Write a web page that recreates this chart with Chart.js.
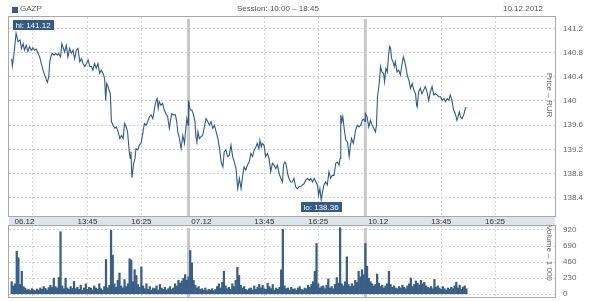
<!DOCTYPE html>
<html><head><meta charset="utf-8">
<script src="https://cdn.jsdelivr.net/npm/chart.js@4"></script>
<style>
html,body{margin:0;padding:0;background:#fff;}
#wrap{position:relative;width:600px;height:301px;overflow:hidden;font-family:"Liberation Sans",Arial,sans-serif;color:#555;}
#c1{position:absolute;left:0;top:0;}
#c2{position:absolute;left:0;top:216px;}
.hd{position:absolute;top:4px;font-size:8px;line-height:10px;white-space:nowrap;}
#sq{position:absolute;left:12px;top:7px;width:6px;height:6px;background:#365a84;}
</style></head><body>
<div id="wrap">
<canvas id="c1" width="600" height="226"></canvas>
<canvas id="c2" width="600" height="85"></canvas>
<div id="sq"></div>
<div class="hd" id="ticker" style="left:20px;"></div>
<div class="hd" id="session" style="left:237px;"></div>
<div class="hd" id="date" style="right:57px;"></div>
</div>
<script>
// ---- header text ----
const tickerName = 'GAZP';
const sessionText = 'Session: 10:00 – 18:45';
const dateText = '10.12.2012';
const priceTitle = 'Price – RUR';
const volumeTitle = 'Volume – 1 000';

// ---- axis ticks ----
const sessionLen = 525; // minutes from 10:00 to 18:45
const dayLabels = ['06.12', '07.12', '10.12'];
const timeTickMin = [225, 385];          // minutes after 10:00
const timeTickLabels = ['13:45', '16:25'];
const extraGridMin = [63];               // unlabelled grid line (first day only)
const priceTicks = [138.4, 138.8, 139.2, 139.6, 140, 140.4, 140.8, 141.2];
const volumeTicks = [0, 230, 460, 690, 920];

// ---- price series (minutes after 10:00, price) ----
const day1Min = [0,2,7,13,19,25,29,34,38,43,48,53,58,63,68,73,78,83,88,93,98,103,106,110,113,116,120,126,130,136,139,145,149,152,157,162,167,172,177,182,187,192,197,202,207,212,217,222,227,232,237,241,246,251,256,261,266,271,276,279,282,286,289,293,296,301,306,311,316,321,326,331,335,340,344,349,352,354,357,359,362,366,369,374,379,384,389,394,399,404,409,414,419,424,429,432,435,438,443,448,453,458,463,468,471,475,480,486,490,493,498,503,508,513,516,520,524];
const day1Price = [140.70,140.58,140.79,141.12,140.98,141.01,140.87,140.95,140.84,140.92,140.82,140.90,140.84,140.88,140.84,140.86,140.79,140.73,140.62,140.51,140.43,140.35,140.31,140.40,140.65,140.73,140.79,140.76,140.79,140.76,140.79,140.73,140.95,140.90,140.81,140.92,140.73,140.87,140.79,140.84,140.70,140.84,140.87,140.65,140.70,140.62,140.57,140.62,140.68,140.57,140.57,140.51,140.62,140.54,140.62,140.46,140.51,140.46,140.37,140.01,140.29,140.24,140.18,140.12,139.66,139.60,139.55,139.57,139.49,139.38,139.43,139.38,139.63,139.57,139.49,139.16,139.05,139.16,138.73,138.83,138.97,139.05,139.21,139.19,139.27,139.30,139.46,139.63,139.60,139.66,139.74,139.77,139.71,139.88,140.01,140.04,139.88,139.99,139.93,139.96,139.85,139.79,139.74,139.55,139.66,139.79,139.77,139.77,139.66,139.49,139.38,139.21,139.43,139.30,139.49,139.71,139.60];
const day2Min = [0,5,10,15,19,22,25,28,32,37,42,47,52,57,62,67,72,77,82,87,92,97,102,106,111,116,121,126,131,136,141,146,151,156,161,165,170,175,180,185,190,195,200,204,209,212,216,219,224,229,234,239,244,249,254,259,264,269,274,279,282,286,289,294,298,303,308,313,318,323,328,333,338,343,348,353,358,363,368,373,378,383,386,390,394,398,402,407,412,417,422,427,432,437,442,447,450,452,455,458,462,467,472,477,480,484,489,492,496,501,506,511,516,520,524];
const day2Price = [140.01,139.85,139.85,139.77,139.66,139.41,139.32,139.49,139.38,139.41,139.43,139.57,139.71,139.66,139.60,139.66,139.55,139.60,139.49,139.38,139.21,138.99,138.91,139.16,139.19,139.08,139.10,139.27,139.08,138.99,138.88,138.55,138.72,138.55,138.77,138.91,138.86,138.94,138.99,139.13,139.08,139.19,139.24,139.30,139.21,139.35,139.24,139.30,139.27,139.08,139.13,139.05,138.83,138.97,138.94,138.88,138.94,138.80,138.72,138.66,138.94,138.99,138.97,138.80,138.72,138.66,138.66,138.72,138.58,138.55,138.58,138.58,138.61,138.63,138.69,138.72,138.69,138.72,138.66,138.72,138.66,138.61,138.44,138.55,138.36,138.50,138.61,138.66,138.61,138.83,138.72,138.77,138.77,138.97,138.99,138.94,139.05,139.77,139.66,139.74,139.55,139.35,139.32,139.08,139.24,139.38,139.30,139.38,139.52,139.60,139.57,139.60,139.68,139.70,139.66];
const day3Min = [0,5,10,15,20,25,30,33,36,40,42,45,49,54,57,61,65,69,72,75,78,82,86,89,94,99,104,109,113,117,121,124,129,134,139,144,149,152,154,158,163,168,173,178,183,188,193,198,203,208,213,218,223,228,233,238,243,248,252,257,262,267,272,275,279,282,287,292,297,300];
const day3Price = [139.79,139.74,139.57,139.68,139.60,139.55,139.49,139.60,140.07,140.24,140.35,140.57,140.48,140.46,140.32,140.54,140.48,140.76,140.90,140.87,140.70,140.65,140.57,140.65,140.48,140.51,140.43,140.62,140.73,140.65,140.54,140.43,140.35,140.21,140.29,140.18,140.12,139.93,139.90,140.15,140.21,140.12,140.18,140.24,140.15,140.01,140.15,140.24,140.10,140.12,140.10,140.07,140.07,140.01,140.04,139.99,140.04,140.01,140.10,140.01,139.85,139.79,139.68,139.74,139.82,139.74,139.71,139.77,139.88,139.90];

// ---- volume (thousands) per 5-minute bar from 10:00 ----
const volStep = 5;
const day1Vol = [180,120,150,616,521,140,328,110,90,60,70,55,80,65,50,75,60,90,70,110,85,60,95,130,100,230,110,90,240,895,120,80,230,90,70,110,85,184,80,100,70,130,60,90,150,70,100,85,60,120,90,70,150,80,60,110,497,90,130,914,560,150,100,200,305,120,90,210,110,150,507,490,180,353,268,140,100,391,120,80,150,70,110,60,90,80,120,60,140,90,70,100,60,80,110,70,90,150,120,200,160,190,230,281,200];
const day2Vol = [250,626,449,200,130,90,110,70,80,60,90,50,70,60,80,50,70,110,150,90,170,328,120,80,100,70,150,110,200,386,270,130,90,110,70,60,80,90,60,120,70,100,140,90,130,80,70,160,110,80,140,60,90,70,100,350,929,120,80,90,60,100,70,80,60,90,110,70,60,90,80,130,100,140,180,328,727,150,90,110,120,80,130,220,90,110,80,140,240,160,953,150,120,180,536,140,110,150,120,200,170,328,250,350,280];
const day3Vol = [727,400,230,180,150,120,140,290,160,110,130,90,120,150,328,140,100,120,90,80,110,90,130,100,80,120,150,232,110,140,190,160,130,200,150,170,120,100,90,110,80,212,100,120,90,70,110,80,60,90,70,100,80,120,173,90,130,70,100,120,80];

// ---- build library data ----
const pricePts = [];
[[day1Min, day1Price], [day2Min, day2Price], [day3Min, day3Price]].forEach(([m, p], d) =>
  m.forEach((t, i) => pricePts.push({x: d * sessionLen + t, y: p[i]})));
const volPts = [];
[day1Vol, day2Vol, day3Vol].forEach((arr, d) =>
  arr.forEach((v, i) => volPts.push({x: d * sessionLen + i * volStep, y: v})));

const DATE_OFF = 38;
const xLabelMap = new Map();
const xTickVals = [];
dayLabels.forEach((lab, d) => {
  const v = d * sessionLen + DATE_OFF; xTickVals.push(v); xLabelMap.set(v, {label: lab, grid: false});
  timeTickMin.forEach((t, j) => { const tv = d * sessionLen + t; xTickVals.push(tv); xLabelMap.set(tv, {label: timeTickLabels[j], grid: true}); });
});
extraGridMin.forEach(t => { xTickVals.push(t); xLabelMap.set(t, {label: '', grid: true}); });
xTickVals.sort((a, b) => a - b);

document.getElementById('ticker').textContent = tickerName;
document.getElementById('session').textContent = sessionText;
document.getElementById('date').textContent = dateText;

Chart.defaults.font.family = '"Liberation Sans", Arial, sans-serif';
Chart.defaults.font.size = 8;
Chart.defaults.color = '#555';

const X_MIN = -8, X_MAX = 1613;
const GRID = '#d6d6d6';
const LINE = '#2f5a88';
const FRAME = '#a8a8a8';

function gridColor(ctx) {
  if (!ctx.tick) return GRID;
  const m = xLabelMap.get(ctx.tick.value);
  return m && !m.grid ? 'rgba(0,0,0,0)' : GRID;
}

function drawSeparators(c) {
  const {ctx, chartArea: a, scales} = c;
  ctx.save();
  ctx.fillStyle = '#c8c8c8';
  for (let d = 1; d < dayLabels.length; d++) {
    const px = scales.x.getPixelForValue(d * sessionLen);
    ctx.fillRect(px - 1.5, a.top + 2, 3, a.bottom - a.top - 2);
  }
  ctx.restore();
}
function drawFrame(c) {
  const {ctx, chartArea: a} = c;
  ctx.save();
  ctx.strokeStyle = FRAME; ctx.lineWidth = 1;
  ctx.strokeRect(Math.round(a.left) - 0.5, Math.round(a.top) - 0.5, Math.round(a.right - a.left) + 1, Math.round(a.bottom - a.top) + 1);
  ctx.restore();
}
function drawVTitle(c, text, cy) {
  const {ctx, chartArea: a} = c;
  ctx.save();
  ctx.fillStyle = '#666';
  ctx.font = '8px "Liberation Sans", Arial, sans-serif';
  ctx.translate(a.right - 6, cy);
  ctx.rotate(Math.PI / 2);
  ctx.textAlign = 'center'; ctx.textBaseline = 'middle';
  ctx.fillText(text, 0, 0);
  ctx.restore();
}
function drawTag(c, text, px, py, above) {
  const {ctx, chartArea: a} = c;
  ctx.save();
  ctx.font = '8px "Liberation Sans", Arial, sans-serif';
  const w = Math.ceil(ctx.measureText(text).width) + 5, h = 10;
  let left = Math.round(px - w / 2);
  left = Math.max(a.left + 4, Math.min(left, a.right - w - 4));
  const top = above ? Math.round(py - 13) : Math.round(py + 2);
  ctx.fillStyle = '#365a84';
  ctx.fillRect(left, top, w, h);
  ctx.fillStyle = '#fff';
  ctx.textAlign = 'left'; ctx.textBaseline = 'middle';
  ctx.fillText(text, left + 2.5, top + h / 2 + 0.5);
  ctx.restore();
}

const deco1 = {
  id: 'deco1',
  beforeDraw(c) {
    const {ctx, chartArea: a} = c;
    ctx.save();
    ctx.fillStyle = '#dce3eb';
    ctx.fillRect(a.left, a.bottom, a.right - a.left, c.height - a.bottom);
    ctx.restore();
  },
  beforeDatasetsDraw(c) { drawSeparators(c); },
  afterDraw(c) {
    drawFrame(c);
    drawVTitle(c, priceTitle, 95);
    let hi = pricePts[0], lo = pricePts[0];
    pricePts.forEach(p => { if (p.y > hi.y) hi = p; if (p.y < lo.y) lo = p; });
    const sx = c.scales.x, sy = c.scales.y;
    drawTag(c, 'hi: ' + hi.y.toFixed(2), sx.getPixelForValue(hi.x), sy.getPixelForValue(hi.y), true);
    drawTag(c, 'lo: ' + lo.y.toFixed(2), sx.getPixelForValue(lo.x), sy.getPixelForValue(lo.y), false);
  }
};
const deco2 = {
  id: 'deco2',
  beforeDatasetsDraw(c) { drawSeparators(c); },
  afterDraw(c) { drawFrame(c); drawVTitle(c, volumeTitle, 37); }
};

const xScaleBase = (showLabels) => ({
  type: 'linear', min: X_MIN, max: X_MAX, offset: false,
  afterBuildTicks: s => { s.ticks = xTickVals.map(v => ({value: v})); },
  afterFit: s => { s.height = showLabels ? 10 : 0; },
  ticks: {display: showLabels, autoSkip: false, maxRotation: 0, minRotation: 0, padding: 1, color: '#333',
    callback: v => (xLabelMap.get(v) || {label: ''}).label},
  grid: {color: gridColor, drawTicks: false, lineWidth: 1, offset: false},
  border: {display: false, dash: [2, 2]}
});
const yScaleBase = (min, max, ticksArr, cb) => ({
  position: 'right', min: min, max: max,
  afterBuildTicks: s => { s.ticks = ticksArr.map(v => ({value: v})); },
  afterFit: s => { s.width = 45; },
  ticks: {padding: 0, color: '#666', font: {size: 8, lineHeight: 1}, callback: cb},
  grid: {color: GRID, drawTicks: true, tickLength: 8, tickColor: 'rgba(0,0,0,0)'},
  border: {display: false, dash: [2, 2]}
});

new Chart(document.getElementById('c1'), {
  type: 'line',
  data: {datasets: [{data: pricePts, borderColor: LINE, borderWidth: 1.1, pointRadius: 0, tension: 0, fill: false}]},
  options: {
    responsive: false, animation: false, devicePixelRatio: 1,
    layout: {padding: {left: 9, top: 17, right: 0, bottom: 0}},
    plugins: {legend: {display: false}, tooltip: {enabled: false}},
    scales: {
      x: xScaleBase(true),
      y: yScaleBase(138.097, 141.39, priceTicks, v => String(+(+v).toFixed(1)))
    }
  },
  plugins: [deco1]
});

new Chart(document.getElementById('c2'), {
  type: 'bar',
  data: {datasets: [{data: volPts, backgroundColor: '#3a5e86', barThickness: 1.6, borderWidth: 0}]},
  options: {
    responsive: false, animation: false, devicePixelRatio: 1,
    layout: {padding: {left: 9, top: 10, right: 0, bottom: 4}},
    plugins: {legend: {display: false}, tooltip: {enabled: false}},
    scales: {
      x: xScaleBase(false),
      y: yScaleBase(-39, 977, volumeTicks, v => String(v))
    }
  },
  plugins: [deco2]
});
</script>
</body></html>
